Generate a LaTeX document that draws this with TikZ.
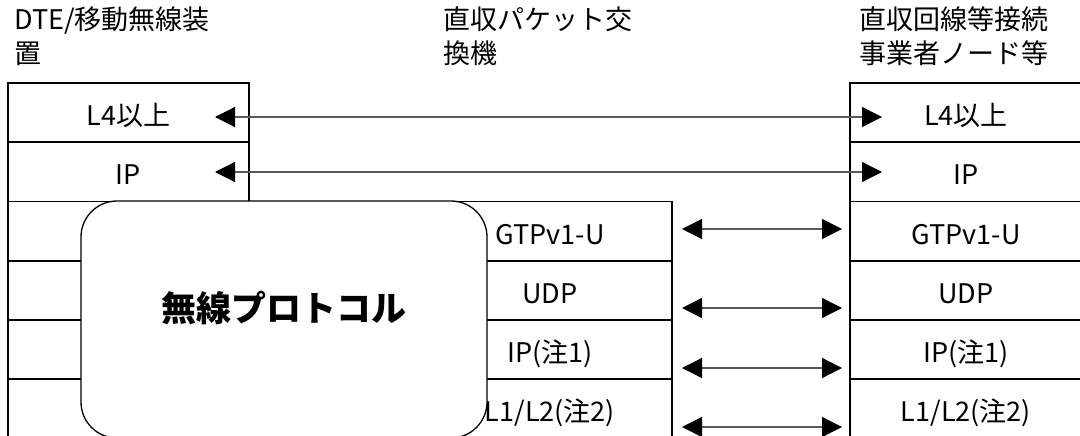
\documentclass[tikz,border=0pt]{standalone}
\usepackage{fontspec}
\setmainfont{Noto Sans CJK JP}
\usetikzlibrary{arrows.meta}

\begin{document}
\begin{tikzpicture}[x=1pt,y=-1pt,
    every node/.style={font=\fontsize{27}{32}\selectfont},
    cell/.style={draw,line width=1.8pt,inner sep=0pt,outer sep=0pt,
      minimum height=59.2pt,text height=26pt,text depth=0pt},
    title/.style={anchor=base west,inner sep=0pt},
    radio/.style={draw,fill=white,line width=1.3pt,rounded corners=36pt,
      minimum width=406pt,minimum height=237pt,inner sep=0pt},
    link/.style={draw=black!65,line width=1.2pt,
      >={Triangle[length=20pt,width=20pt,color=black]},<->}]
      \useasboundingbox (0,0) rectangle (1080,436);

      % Titles of the three stacks
      \node[title] (dteA) at (14,30) {DTE/移動無線装};
      \node[title] (dteB) at (14,64) {置};
      \node[title] (swA) at (443,30) {直収パケット交};
      \node[title] (swB) at (443,64) {換機};
      \node[title] (nodeA) at (859,30) {直収回線等接続};
      \node[title] (nodeB) at (859,64) {事業者ノード等};

      % Left stack (DTE)
      \node[cell,minimum width=241pt] (dteL4) at (128.5,112.6) {L4以上};
      \node[cell,minimum width=241pt] (dteIP) at (128.5,171.8) {IP};
      \node[cell,minimum width=241pt] (dteR1) at (128.5,231) {};
      \node[cell,minimum width=241pt] (dteR2) at (128.5,290.2) {};
      \node[cell,minimum width=241pt] (dteR3) at (128.5,349.4) {};
      \node[cell,minimum width=241pt] (dteR4) at (128.5,408.6) {};

      % Middle stack (switch)
      \node[cell,minimum width=244pt] (swGTP) at (550,231) {GTPv1-U};
      \node[cell,minimum width=244pt] (swUDP) at (550,290.2) {UDP};
      \node[cell,minimum width=244pt] (swIP) at (550,349.4) {IP(注1)};
      \node[cell,minimum width=244pt] (swL12) at (550,408.6) {L1/L2(注2)};

      % Right stack (node)
      \node[cell,minimum width=232pt] (ndL4) at (966,112.6) {L4以上};
      \node[cell,minimum width=232pt] (ndIP) at (966,171.8) {IP};
      \node[cell,minimum width=232pt] (ndGTP) at (966,231) {GTPv1-U};
      \node[cell,minimum width=232pt] (ndUDP) at (966,290.2) {UDP};
      \node[cell,minimum width=232pt] (ndIPb) at (966,349.4) {IP(注1)};
      \node[cell,minimum width=232pt] (ndL12) at (966,408.6) {L1/L2(注2)};

      % Radio protocol block over the lower layers
      \node[radio] (radio) at (284,319.5) {};
      \node[font=\fontsize{35}{40}\selectfont\bfseries] (radioLabel) at (284,308) {無線プロトコル};

      % End points of the peer links
      \coordinate (l4A) at (215,117);
      \coordinate (l4B) at (882,117);
      \coordinate (ipA) at (215,172);
      \coordinate (ipB) at (882,172);
      \coordinate (gtpA) at (682,229);
      \coordinate (gtpB) at (842,229);
      \coordinate (udpA) at (682,308);
      \coordinate (udpB) at (842,308);
      \coordinate (ipcA) at (682,368);
      \coordinate (ipcB) at (842,368);
      \coordinate (l12A) at (682,427);
      \coordinate (l12B) at (842,427);

      % Peer links
      \draw[link] (l4A) -- (l4B);
      \draw[link] (ipA) -- (ipB);
      \draw[link] (gtpA) -- (gtpB);
      \draw[link] (udpA) -- (udpB);
      \draw[link] (ipcA) -- (ipcB);
      \draw[link] (l12A) -- (l12B);
  \end{tikzpicture}
\end{document}
